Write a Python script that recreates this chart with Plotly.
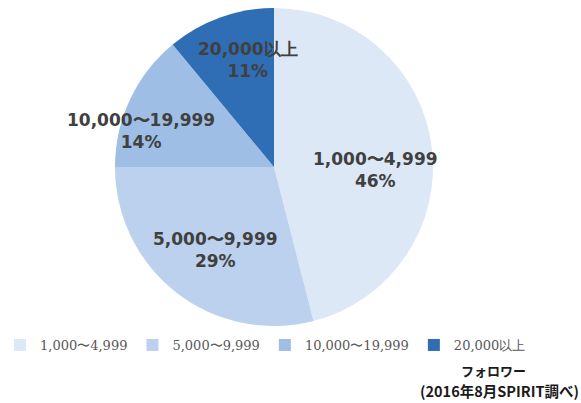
import math
import plotly.graph_objects as go

categories = ["1,000〜4,999", "5,000〜9,999", "10,000〜19,999", "20,000以上"]
shares = [46, 29, 14, 11]
colors = ["#dde8f6", "#bbd1ed", "#9ebee5", "#2f6db5"]

# label placement style: radius fraction and angular nudge (deg) per slice
label_r = [0.64, 0.64, 0.87, 0.69]
label_nudge = [-9, 2.5, 10, -6]

W, H = 581, 403
cx_px, cy_px, R = 274, 167, 159

fig = go.Figure(go.Pie(
    labels=categories,
    values=shares,
    sort=False,
    direction="clockwise",
    rotation=0,
    marker=dict(colors=colors, line=dict(color="#ffffff", width=0)),
    textinfo="none",
    domain=dict(x=[(cx_px - R) / W, (cx_px + R) / W],
                y=[1 - (cy_px + R) / H, 1 - (cy_px - R) / H]),
    hoverinfo="label+percent",
))

annotations = []
total = sum(shares)
start = 90.0
for i, (lab, v) in enumerate(zip(categories, shares)):
    mid = start - v / total * 360 / 2
    start -= v / total * 360
    a = math.radians(mid + label_nudge[i])
    x = (cx_px + label_r[i] * R * math.cos(a)) / W
    y = 1 - (cy_px - label_r[i] * R * math.sin(a)) / H
    annotations.append(dict(
        text=f"<b>{lab}<br>{v}%</b>", x=x, y=y, xref="paper", yref="paper",
        xanchor="center", yanchor="middle",
        showarrow=False, align="center",
        font=dict(family="DejaVu Sans", size=17, color="#404040")))

annotations += [
    dict(text="<b>フォロワー</b>", x=493 / W, y=1 - 370 / H, xref="paper", yref="paper",
         xanchor="center", yanchor="middle",
         showarrow=False, font=dict(family="Noto Sans CJK JP", size=13, color="#1a1a1a")),
    dict(text="<b>(2016年8月SPIRIT調べ)</b>", x=1.0, y=1 - 390 / H, xref="paper", yref="paper",
         xanchor="right", yanchor="middle", showarrow=False,
         font=dict(family="Noto Sans CJK JP", size=14.5, color="#1a1a1a")),
]

fig.update_layout(
    width=W, height=H,
    margin=dict(l=0, r=0, t=0, b=0),
    paper_bgcolor="white", plot_bgcolor="white",
    showlegend=True,
    legend=dict(orientation="h", x=0.0, xanchor="left", y=1 - 345 / H, yanchor="middle",
                font=dict(family="DejaVu Serif", size=13, color="#595959"),
                itemwidth=30, traceorder="normal", bgcolor="rgba(0,0,0,0)"),
    annotations=annotations,
)

fig.write_html("out.html", config={"displayModeBar": False},
               post_script="document.body.style.margin='0';document.body.style.overflow='hidden';")
